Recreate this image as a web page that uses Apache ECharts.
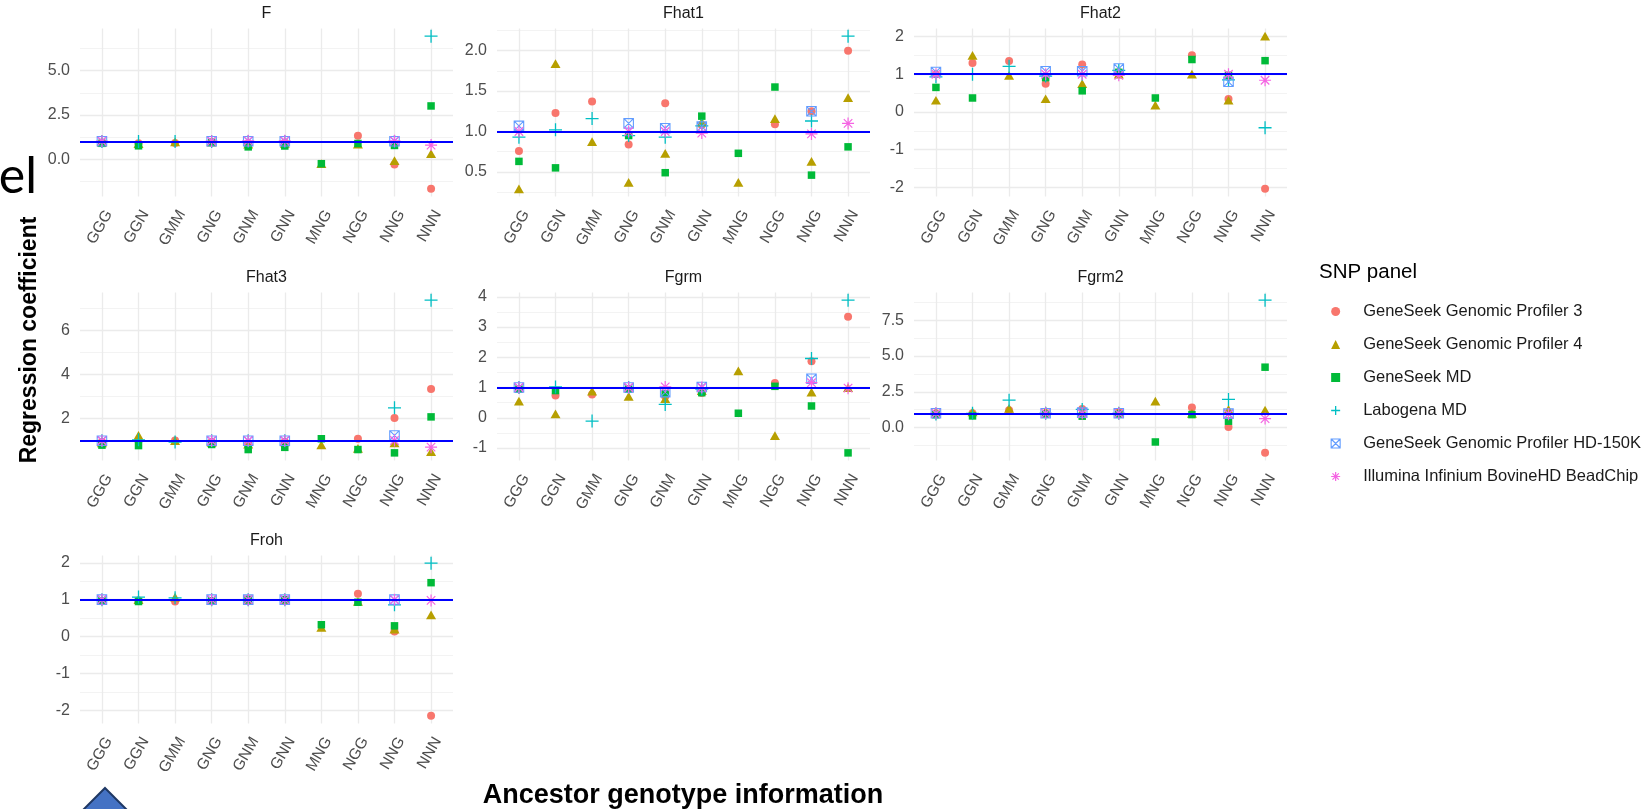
<!DOCTYPE html>
<html>
<head>
<meta charset="utf-8">
<script src="https://cdn.jsdelivr.net/npm/echarts@6/dist/echarts.min.js"></script>
<style>
  html, body { margin: 0; padding: 0; background: #ffffff; }
  #chart { width: 1644px; height: 809px; }
</style>
</head>
<body>
<div id="chart"></div>
<script>
// Ancestor genotype classes (x axis of every facet)
const categories = ['GGG', 'GGN', 'GMM', 'GNG', 'GNM', 'GNN', 'MNG', 'NGG', 'NNG', 'NNN'];

// Inbreeding estimators, one facet each
const panelNames = ['F', 'Fhat1', 'Fhat2', 'Fhat3', 'Fgrm', 'Fgrm2', 'Froh'];

// SNP panels (legend entries / series)
const snpPanels = [
  'GeneSeek Genomic Profiler 3',
  'GeneSeek Genomic Profiler 4',
  'GeneSeek MD',
  'Labogena MD',
  'GeneSeek Genomic Profiler HD-150K',
  'Illumina Infinium BovineHD BeadChip'
];

// Regression coefficients, one array per estimator and SNP panel (null = not estimated)
const F_ggp3   = [0.95, 0.90, 0.92, 0.96, 0.90, 0.95, null, 1.33, -0.30, -1.67];
const F_ggp4   = [0.95, 0.88, 0.98, 0.96, 0.85, 0.90, -0.25, 0.85, -0.08, 0.32];
const F_gsmd   = [0.90, 0.76, null, 0.95, 0.70, 0.75, -0.25, 0.89, 0.78, 3.01];
const F_labo   = [1.00, 1.00, 1.00, 1.00, 1.00, 1.00, null, null, 1.00, 6.95];
const F_hd150  = [1.02, null, null, 1.02, 1.02, 1.02, null, null, 1.02, null];
const F_bovhd  = [1.02, null, null, 1.02, 1.04, 1.04, null, null, 1.04, 0.80];

const Fhat1_ggp3  = [0.76, 1.23, 1.37, 0.84, 1.35, 1.08, null, 1.09, 1.25, 2.00];
const Fhat1_ggp4  = [0.29, 1.84, 0.875, 0.37, 0.73, 1.12, 0.37, 1.16, 0.63, 1.42];
const Fhat1_gsmd  = [0.63, 0.55, null, 0.95, 0.49, 1.19, 0.73, 1.55, 0.46, 0.81];
const Fhat1_labo  = [0.93, 1.02, 1.16, 0.95, 0.93, 1.07, null, null, 1.13, 2.18];
const Fhat1_hd150 = [1.07, null, null, 1.10, 1.04, 1.06, null, null, 1.25, null];
const Fhat1_bovhd = [1.00, null, null, 1.00, 1.00, 0.98, null, null, 0.97, 1.10];

const Fhat2_ggp3  = [1.00, 1.30, 1.35, 0.75, 1.26, 1.05, null, 1.50, 0.34, -2.04];
const Fhat2_ggp4  = [0.31, 1.50, 0.97, 0.35, 0.75, 1.00, 0.18, 1.00, 0.31, 2.01];
const Fhat2_gsmd  = [0.65, 0.37, null, 0.91, 0.56, 1.05, 0.37, 1.39, 0.97, 1.36];
const Fhat2_labo  = [0.93, 1.00, 1.21, 0.95, 1.00, 1.10, null, null, 0.85, -0.42];
const Fhat2_hd150 = [1.06, null, null, 1.08, 1.08, 1.15, null, null, 0.80, null];
const Fhat2_bovhd = [1.00, null, null, 1.00, 1.00, 0.97, null, null, 1.00, 0.84];

const Fhat3_ggp3  = [0.95, 1.00, 1.01, 0.95, 0.90, 0.95, null, 1.09, 2.03, 3.34];
const Fhat3_ggp4  = [0.90, 1.24, 1.00, 0.92, 0.85, 0.95, 0.81, 0.65, 0.90, 0.51];
const Fhat3_gsmd  = [0.80, 0.78, null, 0.83, 0.60, 0.70, 1.09, 0.60, 0.45, 2.08];
const Fhat3_labo  = [1.00, 1.04, 0.94, 1.00, 1.00, 1.00, null, null, 2.49, 7.37];
const Fhat3_hd150 = [1.00, null, null, 1.00, 1.00, 1.00, null, null, 1.24, null];
const Fhat3_bovhd = [1.00, null, null, 1.00, 1.00, 1.00, null, null, 1.01, 0.71];

const Fgrm_ggp3  = [0.95, 0.74, 0.77, 0.95, 0.70, 0.82, null, 1.15, 1.87, 3.34];
const Fgrm_ggp4  = [0.55, 0.13, 0.88, 0.71, 0.63, 0.90, 1.55, -0.59, 0.85, 1.00];
const Fgrm_gsmd  = [0.95, 0.90, null, 0.95, 0.80, 0.83, 0.15, 1.04, 0.39, -1.16];
const Fgrm_labo  = [1.00, 1.02, -0.11, 1.00, 0.44, 0.95, null, null, 1.96, 3.89];
const Fgrm_hd150 = [1.00, null, null, 1.00, 0.85, 1.02, null, null, 1.29, null];
const Fgrm_bovhd = [1.00, null, null, 1.00, 1.02, 1.00, null, null, 1.16, 0.98];

const Fgrm2_ggp3  = [1.00, 1.00, 1.22, 1.00, 1.31, 1.10, null, 1.41, 0.05, -1.76];
const Fgrm2_ggp4  = [1.10, 1.10, 1.34, 1.17, 1.10, 1.15, 1.85, 1.00, 1.27, 1.22];
const Fgrm2_gsmd  = [0.90, 0.82, null, 0.95, 0.80, 0.95, -1.00, 0.91, 0.45, 4.22];
const Fgrm2_labo  = [0.95, 1.00, 1.92, 1.00, 1.27, 1.00, null, null, 1.97, 8.90];
const Fgrm2_hd150 = [1.00, null, null, 1.00, 1.05, 1.00, null, null, 0.98, null];
const Fgrm2_bovhd = [1.00, null, null, 1.00, 0.98, 1.00, null, null, 0.94, 0.63];

const Froh_ggp3  = [0.97, 0.98, 0.95, 0.96, 1.02, 1.00, null, 1.16, 0.14, -2.15];
const Froh_ggp4  = [0.98, 1.00, 1.07, 0.98, 1.00, 1.00, 0.25, 0.95, 0.20, 0.59];
const Froh_gsmd  = [0.97, 0.95, null, 0.97, 1.00, 1.00, 0.32, 0.93, 0.29, 1.46];
const Froh_labo  = [1.00, 1.07, 1.05, 1.00, 1.00, 1.00, null, null, 0.86, 1.99];
const Froh_hd150 = [1.00, null, null, 1.00, 1.00, 1.00, null, null, 1.00, null];
const Froh_bovhd = [1.00, null, null, 1.00, 1.00, 1.00, null, null, 1.00, 0.98];

// Major y tick labels per facet (free scales)
const F_ticks     = ['0.0', '2.5', '5.0'];
const Fhat1_ticks = ['0.5', '1.0', '1.5', '2.0'];
const Fhat2_ticks = ['-2', '-1', '0', '1', '2'];
const Fhat3_ticks = ['2', '4', '6'];
const Fgrm_ticks  = ['-1', '0', '1', '2', '3', '4'];
const Fgrm2_ticks = ['0.0', '2.5', '5.0', '7.5'];
const Froh_ticks  = ['-2', '-1', '0', '1', '2'];

// Reference slope drawn in every facet
const referenceSlope = 1;

// ---------------------------------------------------------------------------
const panelValues = [
  [F_ggp3, F_ggp4, F_gsmd, F_labo, F_hd150, F_bovhd],
  [Fhat1_ggp3, Fhat1_ggp4, Fhat1_gsmd, Fhat1_labo, Fhat1_hd150, Fhat1_bovhd],
  [Fhat2_ggp3, Fhat2_ggp4, Fhat2_gsmd, Fhat2_labo, Fhat2_hd150, Fhat2_bovhd],
  [Fhat3_ggp3, Fhat3_ggp4, Fhat3_gsmd, Fhat3_labo, Fhat3_hd150, Fhat3_bovhd],
  [Fgrm_ggp3, Fgrm_ggp4, Fgrm_gsmd, Fgrm_labo, Fgrm_hd150, Fgrm_bovhd],
  [Fgrm2_ggp3, Fgrm2_ggp4, Fgrm2_gsmd, Fgrm2_labo, Fgrm2_hd150, Fgrm2_bovhd],
  [Froh_ggp3, Froh_ggp4, Froh_gsmd, Froh_labo, Froh_hd150, Froh_bovhd]
];
const panelTicks = [F_ticks, Fhat1_ticks, Fhat2_ticks, Fhat3_ticks, Fgrm_ticks, Fgrm2_ticks, Froh_ticks];

// Layout of the 3-column facet grid
const colLeft = [80, 497, 914];
const rowTop = [28.5, 292.5, 555.5];
const panelW = 373;
const panelH = 168;

const FONT = '"Liberation Sans", Arial, Helvetica, sans-serif';
const GRID_MAJOR = { color: '#EBEBEB', width: 1.3 };
const GRID_MINOR = { color: '#F0F0F0', width: 0.8 };

// Marker look per SNP panel (ggplot shapes 16, 17, 15, 3, 7, 8)
const markerLook = [
  { symbol: 'circle', size: 8, fill: '#F8766D' },
  { symbol: 'triangle', size: [10, 8.7], fill: '#B79F00' },
  { symbol: 'rect', size: 7.5, fill: '#00BA38' },
  { symbol: 'path://M6,0L6,12M0,6L12,6', size: 13, stroke: '#00BFC4', lw: 1.3 },
  { symbol: 'path://M0,0L10,0L10,10L0,10ZM0,0L10,10M0,10L10,0', size: 9.5, stroke: '#619CFF', lw: 1.1 },
  { symbol: 'path://M6,0L6,12M0,6L12,6M1.76,1.76L10.24,10.24M1.76,10.24L10.24,1.76', size: 12, stroke: '#F564E3', lw: 1.2 }
];

function itemStyleFor(look) {
  if (look.fill) return { color: look.fill, borderWidth: 0, opacity: 1 };
  return { color: 'rgba(0,0,0,0)', borderColor: look.stroke, borderWidth: look.lw, opacity: 1 };
}

// ggplot-like continuous range: data (plus reference line) expanded by 5 %
function paddedRange(lists) {
  const all = [].concat(...lists).filter(v => v !== null).concat([referenceSlope]);
  const lo = Math.min(...all), hi = Math.max(...all);
  const pad = (hi - lo) * 0.05;
  return [lo - pad, hi + pad];
}

function minorBreaks(majors, lo, hi) {
  const step = majors[1] - majors[0];
  const half = step / 2;
  const out = [];
  for (let v = Math.ceil(lo / half) * half; v <= hi + 1e-9; v += half) {
    const r = Math.round(v * 1e6) / 1e6;
    if (!majors.some(m => Math.abs(m - r) < 1e-6)) out.push(r);
  }
  return out;
}

const grids = [], xAxes = [], yAxes = [], series = [], graphics = [];
const catIdx = categories.map((_, i) => i);

panelNames.forEach((name, p) => {
  const col = p % 3, row = Math.floor(p / 3);
  const left = colLeft[col], top = rowTop[row];
  grids.push({ left: left, top: top, width: panelW, height: panelH, outerBoundsMode: 'none', containLabel: false });

  const [lo, hi] = paddedRange(panelValues[p]);
  const labels = panelTicks[p];
  const majors = labels.map(parseFloat);
  const minors = minorBreaks(majors, lo, hi);

  xAxes.push({
    type: 'value', gridIndex: p, min: -0.6, max: categories.length - 0.4,
    axisLine: { show: false },
    axisTick: { show: false, customValues: catIdx },
    axisLabel: {
      customValues: catIdx, rotate: 60, margin: 11,
      align: 'right', verticalAlign: 'top',
      formatter: v => categories[Math.round(v)],
      color: '#4D4D4D', fontFamily: FONT, fontSize: 15.5
    },
    splitLine: { show: true, lineStyle: GRID_MAJOR }
  });

  // major breaks with labels
  yAxes.push({
    type: 'value', gridIndex: p, min: lo, max: hi, position: 'left',
    axisLine: { show: false },
    axisTick: { show: false, customValues: majors },
    axisLabel: {
      customValues: majors, margin: 10,
      formatter: v => labels[majors.findIndex(m => Math.abs(m - v) < 1e-9)],
      color: '#4D4D4D', fontFamily: FONT, fontSize: 16
    },
    splitLine: { show: true, lineStyle: GRID_MAJOR }
  });
  // minor breaks, grid lines only
  yAxes.push({
    type: 'value', gridIndex: p, min: lo, max: hi, position: 'left',
    axisLine: { show: false },
    axisTick: { show: false, customValues: minors },
    axisLabel: { show: false },
    splitLine: { show: true, lineStyle: GRID_MINOR }
  });

  panelValues[p].forEach((vals, s) => {
    const look = markerLook[s];
    const data = [];
    vals.forEach((v, k) => { if (v !== null) data.push([k, v]); });
    const ser = {
      type: 'scatter', name: snpPanels[s], xAxisIndex: p, yAxisIndex: 2 * p,
      symbol: look.symbol, symbolSize: look.size,
      itemStyle: itemStyleFor(look),
      emphasis: { disabled: true },
      data: data, z: 3 + s
    };
    if (s === snpPanels.length - 1) {
      ser.markLine = {
        silent: true, symbol: 'none', animation: false, z: 20,
        label: { show: false },
        lineStyle: { color: '#0000FF', width: 2, type: 'solid', opacity: 1 },
        data: [{ yAxis: referenceSlope }]
      };
    }
    series.push(ser);
  });

  // facet strip label
  graphics.push({
    type: 'text', x: left + panelW / 2, y: top - 14.5,
    style: { text: name, align: 'center', verticalAlign: 'middle', fill: '#1A1A1A', font: '16px ' + FONT }
  });
});

// axis titles
graphics.push({
  type: 'text', x: 683, y: 796,
  style: { text: 'Ancestor genotype information', align: 'center', verticalAlign: 'middle', fill: '#000', font: 'bold 27px ' + FONT }
});
graphics.push({
  type: 'text', x: 30, y: 340, rotation: Math.PI / 2,
  style: { text: 'Regression coefficient', align: 'center', verticalAlign: 'middle', fill: '#000', font: 'bold 23px ' + FONT }
});
// legend title
graphics.push({
  type: 'text', x: 1319, y: 272,
  style: { text: 'SNP panel', align: 'left', verticalAlign: 'middle', fill: '#000', font: '20.5px ' + FONT }
});
// slide fragments around the figure
graphics.push({
  type: 'text', x: 37, y: 177,
  style: { text: 'el', align: 'right', verticalAlign: 'middle', fill: '#000', font: '50px Lato, "Open Sans", sans-serif' }
});
graphics.push({
  type: 'polygon',
  shape: { points: [[105, 788], [131, 814], [105, 840], [79, 814]] },
  style: { fill: '#4472C4', stroke: '#1F3864', lineWidth: 2 }
});

const option = {
  animation: false,
  backgroundColor: '#ffffff',
  grid: grids,
  xAxis: xAxes,
  yAxis: yAxes,
  series: series,
  legend: {
    orient: 'vertical', left: 1325.5, top: 296.5,
    itemWidth: 9, itemHeight: 9, itemGap: 13,
    selectedMode: false,
    textStyle: { fontFamily: FONT, fontSize: 16.5, color: '#1A1A1A', lineHeight: 20, padding: [0, 0, 0, 18] },
    data: snpPanels.map((n, s) => {
      const look = markerLook[s];
      return { name: n, icon: look.symbol, itemStyle: itemStyleFor(look) };
    })
  },
  graphic: graphics
};

const chart = echarts.init(document.getElementById('chart'), null, { renderer: 'canvas' });
chart.setOption(option);
</script>
</body>
</html>
